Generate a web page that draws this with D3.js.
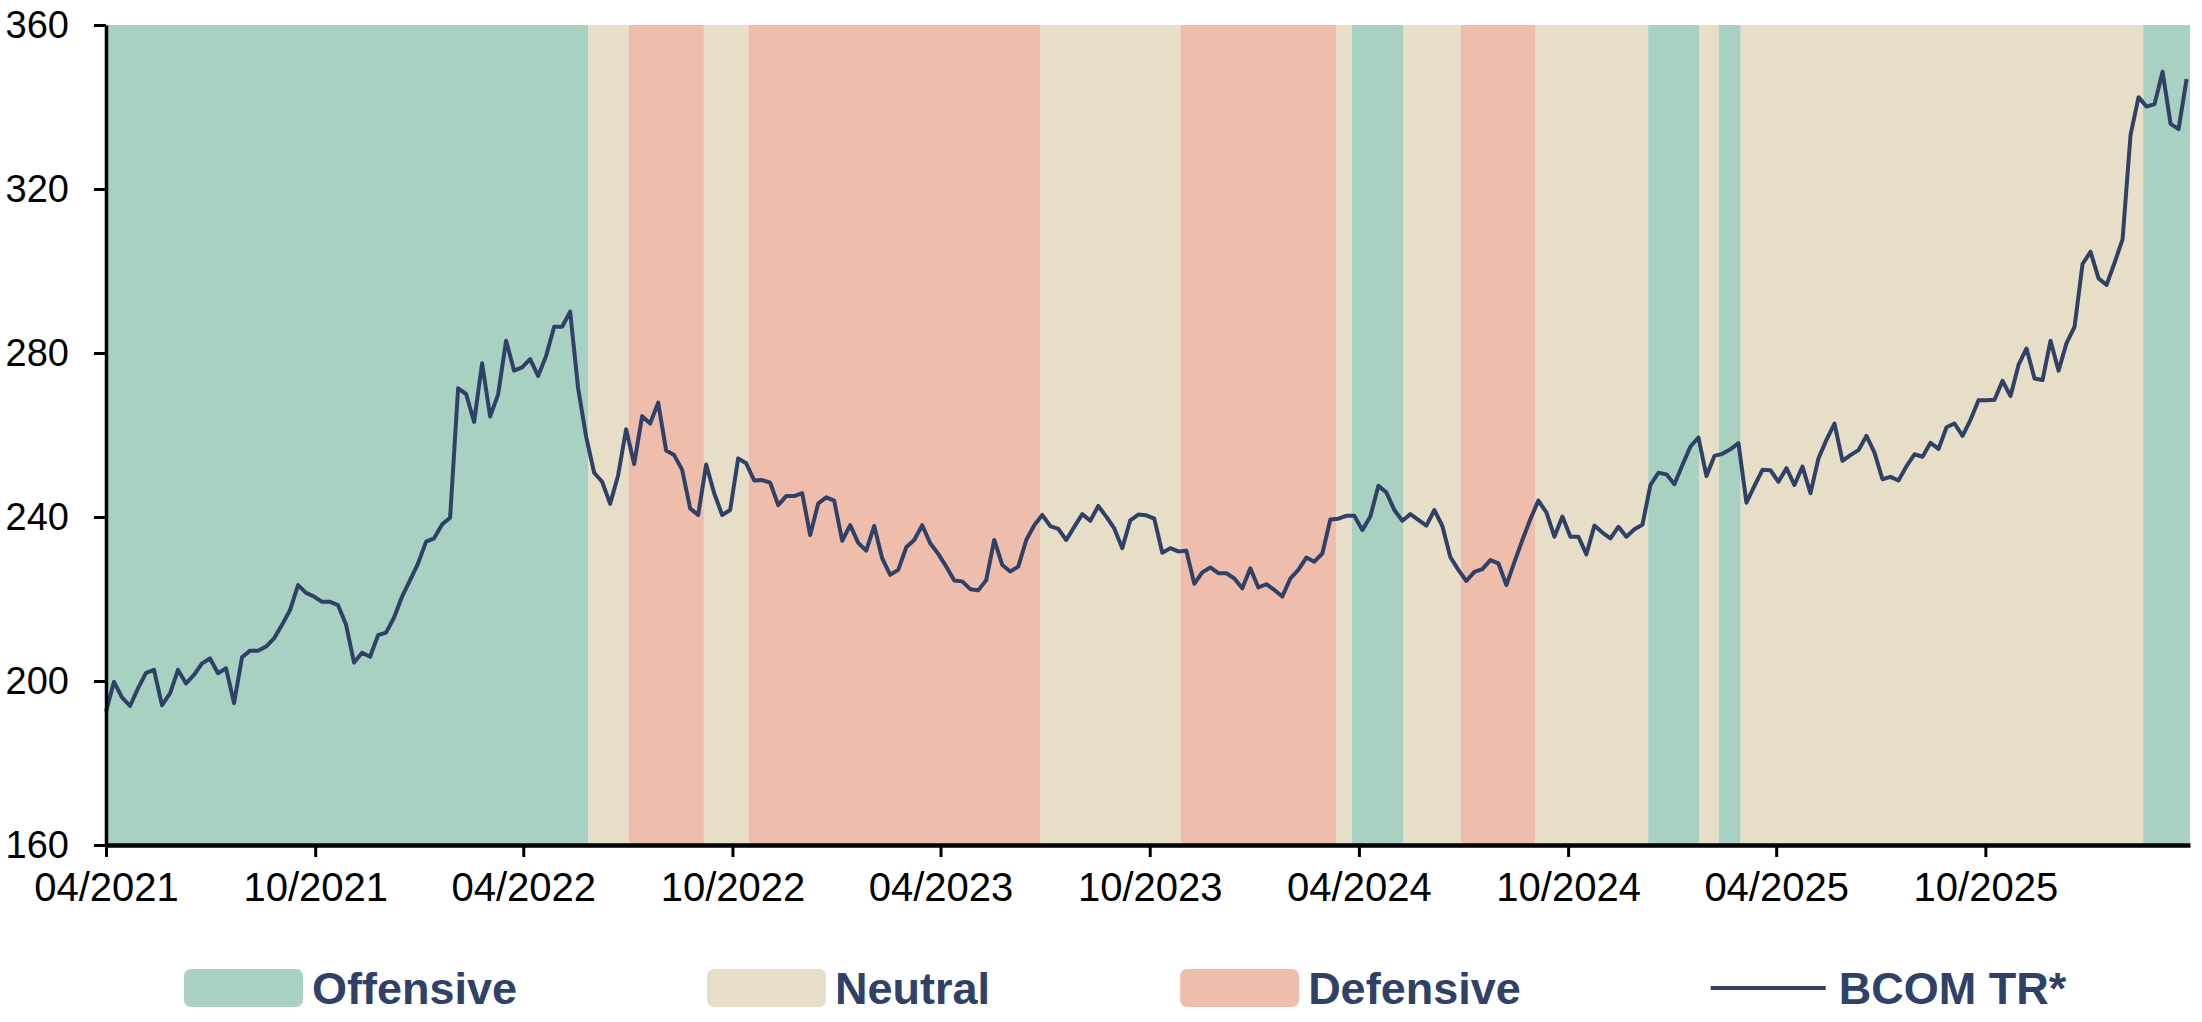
<!DOCTYPE html>
<html>
<head>
<meta charset="utf-8">
<script src="https://cdn.jsdelivr.net/npm/d3@7"></script>
<style>
  body { margin: 0; background: #fff; }
  text { font-family: "Liberation Sans", Arial, sans-serif; }
</style>
</head>
<body>
<div id="regime-chart">
  <svg>
    <g class="chart"></g>
    <g class="legend"></g>
  </svg>
</div>
<script>
const parseDate = d3.timeParse('%Y-%m-%d')

// weekly BCOM TR*, first observation on FIRST_WEEK, one value per week
const FIRST_WEEK = '2021-04-02'
const AXIS_END = '2026-03-30'
const bcomValues = [
  192.5, 199.8, 196.0, 193.9, 198.2, 202.0, 202.7, 194.1, 197.0, 202.7,
  199.4, 201.5, 204.3, 205.5, 201.9, 203.1, 194.6, 205.8, 207.4, 207.4,
  208.4, 210.4, 213.7, 217.3, 223.4, 221.5, 220.6, 219.3, 219.3, 218.5,
  213.7, 204.5, 206.9, 205.9, 211.2, 211.8, 215.5, 220.6, 224.6, 228.7,
  234.0, 234.8, 238.2, 239.8, 271.4, 270.0, 263.2, 277.5, 264.5, 269.9,
  283.0, 275.7, 276.5, 278.5, 274.4, 279.3, 286.4, 286.4, 290.1,
  271.4, 259.6, 250.8, 248.6, 243.2, 250.2, 261.4, 252.9, 264.6, 262.8,
  267.9, 256.2, 255.1, 251.5, 242.1, 240.5, 252.8, 245.8, 240.5, 241.7,
  254.3, 253.1, 248.9, 249.0, 248.4, 242.9, 245.1, 245.1, 245.8, 235.6,
  243.3, 244.8, 244.0, 234.2, 238.0, 233.7, 231.8, 237.8, 229.9, 225.9,
  227.1, 232.6, 234.4, 238.0, 233.6, 231.0, 227.9, 224.5, 224.3, 222.4,
  222.1, 224.6, 234.4, 228.3, 226.7,
  227.9, 234.4, 238.0, 240.5, 237.8, 237.1, 234.4, 237.6, 240.7, 239.1,
  242.7, 240.1, 237.2, 232.4, 239.2, 240.6, 240.4, 239.6, 231.3, 232.4,
  231.6, 231.8, 223.7, 226.5, 227.7, 226.3, 226.3, 225.0, 222.6, 227.5,
  222.8, 223.6, 222.2, 220.6, 225.0, 227.1, 230.1, 229.1, 231.1, 239.4,
  239.6, 240.3, 240.3, 236.8, 240.1, 247.6, 246.0, 241.7, 239.1, 240.7,
  239.3, 237.9, 241.7, 237.8, 230.2,
  227.1, 224.4, 226.6, 227.3, 229.5, 228.7, 223.4, 229.0, 234.4, 239.5,
  244.0, 241.1, 235.2, 240.1, 235.2, 235.2, 230.9, 237.9, 236.2, 234.8,
  237.6, 235.2, 237.0, 238.1, 247.8, 250.8, 250.4, 248.0, 252.7, 257.2,
  259.4, 250.0, 254.9, 255.4, 256.5, 258.0, 243.5, 247.6, 251.5, 251.4,
  248.6, 251.9, 247.8, 252.3, 245.8, 254.3, 258.8, 262.8, 253.7, 255.1,
  256.3, 259.8, 255.7, 249.2, 249.8, 248.9, 252.4, 255.3, 254.7, 258.1,
  256.6, 261.9, 262.8, 259.8, 263.7, 268.5, 268.5, 268.6, 273.2, 269.5,
  277.1, 281.1, 273.8, 273.4, 283.0, 275.7, 282.4, 286.4, 301.7, 304.7,
  298.2, 296.6, 302.0, 307.7, 333.2, 342.4, 340.1, 340.7, 348.6, 335.9,
  334.6, 346.8
]

// regime signal: each one runs until the next start (last one to AXIS_END)
const regimeStarts = [
  '2021-04-02', '2022-05-29', '2022-07-03', '2022-09-07', '2022-10-16',
  '2023-06-28', '2023-10-29', '2024-03-13', '2024-03-27', '2024-05-11',
  '2024-06-30', '2024-09-03', '2024-12-11', '2025-01-25', '2025-02-11',
  '2025-03-02', '2026-02-17'
]
const regimeTypes = [
  'Offensive', 'Neutral', 'Defensive', 'Neutral', 'Defensive',
  'Neutral', 'Defensive', 'Neutral', 'Offensive', 'Neutral',
  'Defensive', 'Neutral', 'Offensive', 'Neutral', 'Offensive',
  'Neutral', 'Offensive'
]

const yTicks = [160, 200, 240, 280, 320, 360]
const xTickDates = [
  '2021-04-02', '2021-10-02', '2022-04-02', '2022-10-02', '2023-04-02',
  '2023-10-02', '2024-04-02', '2024-10-02', '2025-04-02', '2025-10-02'
]
const legendLabels = ['Offensive', 'Neutral', 'Defensive', 'BCOM TR*']

const regimeColor = {
  Offensive: '#A9D1C1',
  Neutral: '#E6DEC6',
  Defensive: '#EEBDAC'
}
const LINE_COLOR = '#2F4167'

const width = 2202, height = 1022
const MARGIN = { top: 25, right: 12, bottom: 177, left: 106 }
const boundedWidth = width - MARGIN.left - MARGIN.right
const boundedHeight = height - MARGIN.top - MARGIN.bottom

const $svg = d3.select('#regime-chart svg')
  .attr('width', width)
  .attr('height', height)
const $gVis = $svg.select('.chart')
  .attr('transform', `translate(${MARGIN.left}, ${MARGIN.top})`)
const $gLegend = $svg.select('.legend')

const xScale = d3.scaleTime()
  .domain([parseDate(FIRST_WEEK), parseDate(AXIS_END)])
  .range([0, boundedWidth])
const yScale = d3.scaleLinear()
  .domain([160, 360])
  .range([boundedHeight, 0])

function drawChart() {
  const firstWeek = parseDate(FIRST_WEEK)
  const series = bcomValues.map((v, i) => ({
    date: d3.timeDay.offset(firstWeek, 7 * i),
    value: v
  }))

  const regimes = regimeStarts.map((s, i) => ({
    start: parseDate(s),
    end: parseDate(i < regimeStarts.length - 1 ? regimeStarts[i + 1] : AXIS_END),
    type: regimeTypes[i]
  }))

  // background bands
  $gVis.append('g')
    .attr('class', 'bands')
    .selectAll('rect')
    .data(regimes)
    .enter()
    .append('rect')
    .attr('x', d => xScale(d.start))
    .attr('y', 0)
    .attr('width', d => xScale(d.end) - xScale(d.start))
    .attr('height', boundedHeight)
    .attr('fill', d => regimeColor[d.type])

  // index line
  const line = d3.line()
    .x(d => xScale(d.date))
    .y(d => yScale(d.value))

  $gVis.append('path')
    .datum(series)
    .attr('class', 'bcom-line')
    .attr('d', line)
    .attr('fill', 'none')
    .attr('stroke', LINE_COLOR)
    .attr('stroke-width', 4)
    .attr('stroke-linejoin', 'round')

  // Y axis
  const yAxis = $gVis.append('g')
    .attr('class', 'axis y-axis')
    .call(d3.axisLeft(yScale).tickValues(yTicks).tickSize(12).tickSizeOuter(0).tickPadding(25))
  yAxis.select('.domain').attr('stroke', '#000').attr('stroke-width', 3.5)
  yAxis.selectAll('.tick line').attr('stroke', '#000').attr('stroke-width', 3)
  yAxis.selectAll('text')
    .attr('font-size', 38)
    .attr('fill', '#000')

  // X axis
  const xAxis = $gVis.append('g')
    .attr('class', 'axis x-axis')
    .attr('transform', `translate(0, ${boundedHeight})`)
    .call(d3.axisBottom(xScale)
      .tickValues(xTickDates.map(parseDate))
      .tickFormat(d3.timeFormat('%m/%Y'))
      .tickSize(12)
      .tickSizeOuter(0)
      .tickPadding(16))
  xAxis.select('.domain').attr('stroke', '#000').attr('stroke-width', 4.5)
  xAxis.selectAll('.tick line').attr('stroke', '#000').attr('stroke-width', 3)
  xAxis.selectAll('text')
    .attr('font-size', 40)
    .attr('fill', '#000')
    .style('text-anchor', 'middle')

  // legend
  const swatchW = 119, swatchH = 38, legendY = 988
  let cursor = 184
  legendLabels.forEach((label, i) => {
    const item = $gLegend.append('g').attr('class', 'legend-item')
    if (i < 3) {
      item.append('rect')
        .attr('x', cursor)
        .attr('y', legendY - swatchH / 2)
        .attr('width', swatchW)
        .attr('height', swatchH)
        .attr('rx', 7)
        .attr('fill', regimeColor[label])
    } else {
      item.append('line')
        .attr('x1', cursor)
        .attr('x2', cursor + swatchW - 4)
        .attr('y1', legendY)
        .attr('y2', legendY)
        .attr('stroke', LINE_COLOR)
        .attr('stroke-width', 4)
    }
    const txt = item.append('text')
      .attr('class', 'legend-text')
      .attr('x', cursor + swatchW + 9)
      .attr('y', legendY + 16)
      .attr('font-size', 45)
      .attr('font-weight', 'bold')
      .attr('fill', LINE_COLOR)
      .text(label)
    cursor += swatchW + 9 + txt.node().getComputedTextLength() + 190
  })
}

drawChart()
</script>
</body>
</html>
